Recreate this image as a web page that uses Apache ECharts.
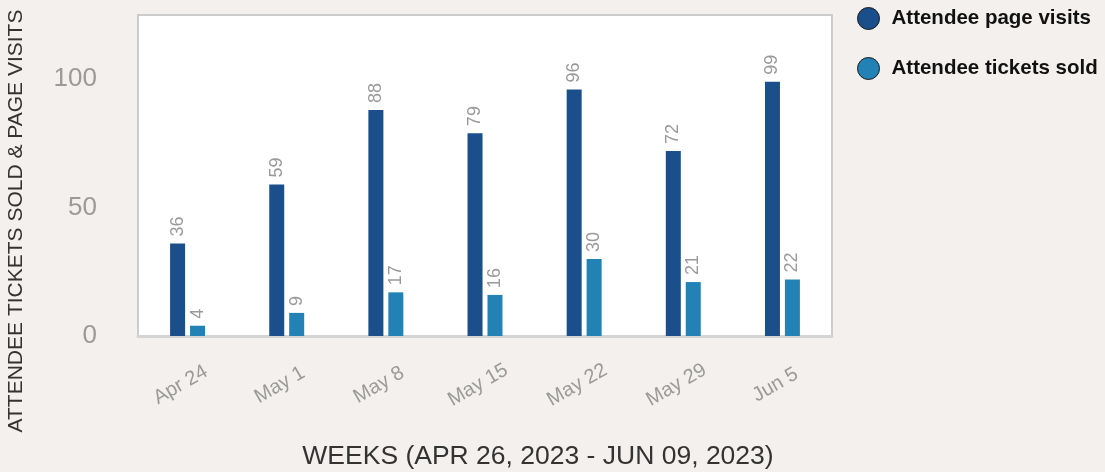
<!DOCTYPE html>
<html><head><meta charset="utf-8">
<script src="https://cdn.jsdelivr.net/npm/echarts@6/dist/echarts.min.js"></script>
<style>html,body{margin:0;padding:0;background:#f3f0ed;}#c{width:1105px;height:472px;}</style>
</head><body><div id="c"></div>
<script>
var categories = ['Apr 24','May 1','May 8','May 15','May 22','May 29','Jun 5'];
var pageVisits = [36, 59, 88, 79, 96, 72, 99];
var ticketsSold = [4, 9, 17, 16, 30, 21, 22];
var seriesNames = ['Attendee page visits', 'Attendee tickets sold'];
var colors = ['#1a4f8c', '#2281b5'];

var FONT = 'Liberation Sans, Arial, Helvetica, sans-serif';
var chart = echarts.init(document.getElementById('c'));
function labelCfg(){
  return {show:true, position:'top', rotate:90, align:'left', verticalAlign:'middle', distance:7,
          color:'#9a9a9a', fontSize:18, fontFamily:FONT};
}
chart.setOption({
  backgroundColor:'#f3f0ed',
  textStyle:{fontFamily:FONT},
  legend:{
    orient:'vertical', left:852, top:2, icon:'circle', itemWidth:22, itemHeight:22, itemGap:27,
    textStyle:{fontSize:20.5, fontWeight:'bold', color:'#111', fontFamily:FONT, padding:[0,0,0,7]},
    itemStyle:{borderColor:'#1a1a1a', borderWidth:1},
    data:seriesNames
  },
  grid:{left:138, right:273, top:15, bottom:136, outerBoundsMode:'none', containLabel:false,
        show:true, backgroundColor:'#ffffff', borderColor:'#cccccc', borderWidth:2},
  xAxis:{
    type:'category', data:categories,
    name:'WEEKS (APR 26, 2023 - JUN 09, 2023)', nameLocation:'middle', nameGap:107,
    nameTextStyle:{fontSize:26.5, color:'#333', fontFamily:FONT, padding:[0,0,0,106]},
    axisLine:{show:true, lineStyle:{color:'#d4d4d4', width:3}},
    axisTick:{show:false},
    axisLabel:{rotate:30, margin:45, align:'center', padding:[0,16,0,0], color:'#9a9a9a', fontSize:20, fontFamily:FONT}
  },
  yAxis:{
    type:'value', min:0, max:125, interval:50,
    name:'ATTENDEE TICKETS SOLD & PAGE VISITS', nameLocation:'middle', nameGap:111, nameRotate:90,
    nameTextStyle:{fontSize:21, color:'#333', fontFamily:FONT, padding:[0,91,0,0]},
    axisLine:{show:false}, axisTick:{show:false}, splitLine:{show:false},
    axisLabel:{showMaxLabel:false, margin:41, color:'#9a9a9a', fontSize:26, fontFamily:FONT}
  },
  series:[
    {name:seriesNames[0], type:'bar', data:pageVisits, barWidth:15, barGap:'33%',
     itemStyle:{color:colors[0]}, label:labelCfg()},
    {name:seriesNames[1], type:'bar', data:ticketsSold, barWidth:15,
     itemStyle:{color:colors[1]}, label:labelCfg()}
  ]
});
</script></body></html>
